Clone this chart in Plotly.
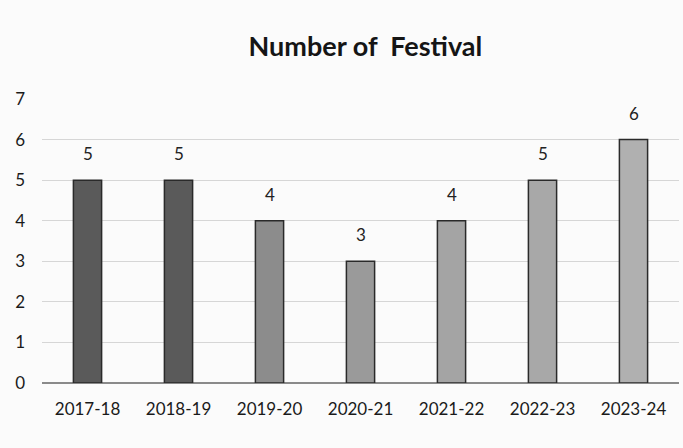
import plotly.graph_objects as go

years = ["2017-18", "2018-19", "2019-20", "2020-21", "2021-22", "2022-23", "2023-24"]
festivals = [5, 5, 4, 3, 4, 5, 6]
bar_colors = ["#5a5a5a", "#5a5a5a", "#8c8c8c", "#9a9a9a", "#a4a4a4", "#a8a8a8", "#b0b0b0"]

FONT = "Lato, Open Sans, sans-serif"

fig = go.Figure(
    go.Bar(
        x=years,
        y=festivals,
        marker=dict(color=bar_colors, line=dict(color="#2a2a2a", width=1.5)),
        width=0.31,
        hoverinfo="x+y",
    )
)

# value labels sit well above each bar
for yr, v in zip(years, festivals):
    fig.add_annotation(
        x=yr, y=v, text=str(v), showarrow=False,
        yanchor="bottom", yshift=14,
        font=dict(family=FONT, size=17, color="#222"),
    )

fig.update_layout(
    width=683,
    height=448,
    margin=dict(l=42, r=4, t=99, b=65),
    paper_bgcolor="#fbfbfb",
    plot_bgcolor="#fbfbfb",
    showlegend=False,
    title=dict(
        text="<b>Number of  Festival</b>",
        x=0.535,
        xanchor="center",
        y=0.895,
        yanchor="middle",
        font=dict(family=FONT, size=27, color="#151515"),
    ),
    xaxis=dict(
        showgrid=False,
        showline=False,
        tickfont=dict(family=FONT, size=17, color="#1a1a1a"),
        ticks="",
        ticklabelstandoff=14,
    ),
    yaxis=dict(
        range=[0, 7],
        dtick=1,
        showgrid=True,
        gridcolor="#d6d6d6",
        gridwidth=1,
        zeroline=True,
        zerolinecolor="#8a8a8a",
        zerolinewidth=1.5,
        tickfont=dict(family=FONT, size=17, color="#1a1a1a"),
        ticks="",
        ticklabelstandoff=16,
    ),
)

fig.write_html("out.html")
